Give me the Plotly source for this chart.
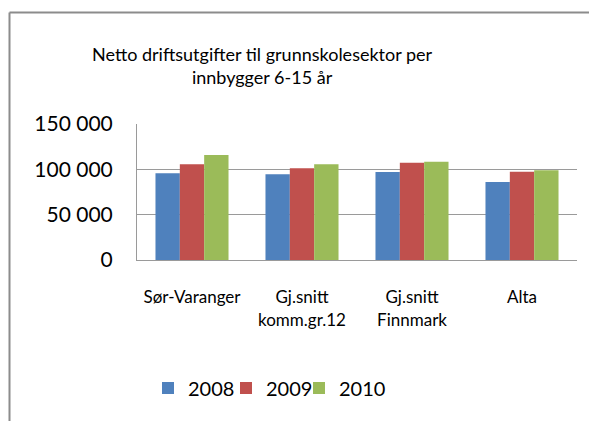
import plotly.graph_objects as go

categories = ["Sør-Varanger", "Gj.snitt<br>komm.gr.12", "Gj.snitt<br>Finnmark", "Alta"]
years = ["2008", "2009", "2010"]
v2008 = [95600, 94500, 97000, 86000]
v2009 = [105500, 101100, 107300, 97400]
v2010 = [115800, 105500, 108400, 98900]
colors = ["#4F81BD", "#C0504D", "#9BBB59"]
tick_vals = [0, 50000, 100000, 150000]

# page has an 8px body margin; work in page pixels and offset
OFF = 8
W, H = 597 - OFF, 421 - OFF
L, R, T, B = 137 - OFF, 20, 124 - OFF, 161
pw, ph = W - L - R, H - T - B

def px(x):
    return (x - OFF - L) / pw

def py(y):
    return (H - B - (y - OFF)) / ph

legend_names = ["legend", "legend2", "legend3"]
legend_x = [148, 226, 299]

fig = go.Figure()
for name, vals, c, lg in zip(years, [v2008, v2009, v2010], colors, legend_names):
    fig.add_trace(go.Bar(x=categories, y=vals, name=name, legend=lg,
                         marker=dict(color=c, line=dict(width=0))))

legend_common = dict(orientation="h", xref="container", yref="container",
                     xanchor="left", y=1 - (388 - OFF) / H, yanchor="middle",
                     font=dict(size=20, family="Lato"), itemwidth=30,
                     bgcolor="rgba(0,0,0,0)")

layout_legends = {lg: dict(legend_common, x=(lx - OFF) / W) for lg, lx in zip(legend_names, legend_x)}

fig.update_layout(
    width=W, height=H,
    margin=dict(l=L, r=R, t=T, b=B, autoexpand=False),
    paper_bgcolor="white", plot_bgcolor="white",
    separators=", ",
    font=dict(family="Lato", color="#000000"),
    barmode="group", bargap=0.336, bargroupgap=0,
    showlegend=True,
    xaxis=dict(showline=True, linecolor="#9a9a9a", linewidth=1, ticks="", showgrid=False,
               tickfont=dict(size=17), ticklabelstandoff=22, automargin=False),
    yaxis=dict(range=[0, 150000], tickvals=tick_vals, tickformat=",d", showgrid=True,
               gridcolor="#9a9a9a", gridwidth=1, showline=True, linecolor="#9a9a9a",
               linewidth=1, ticks="", tickfont=dict(size=21), ticklabelstandoff=19,
               zeroline=False, automargin=False),
    annotations=[dict(text="Netto driftsutgifter til grunnskolesektor per<br>innbygger 6-15 år",
                      xref="paper", yref="paper", x=px(262), y=py(65), xanchor="center",
                      yanchor="middle", showarrow=False, font=dict(size=18, family="Lato"))],
    shapes=[
        dict(type="line", xref="paper", yref="paper", x0=px(9.5), x1=px(620), y0=py(12.5), y1=py(12.5),
             line=dict(color="#8c8c8c", width=2)),
        dict(type="line", xref="paper", yref="paper", x0=px(9.5), x1=px(9.5), y0=py(12.5), y1=py(440),
             line=dict(color="#8c8c8c", width=2)),
    ],
    **layout_legends,
)

fig.write_html("out.html")
